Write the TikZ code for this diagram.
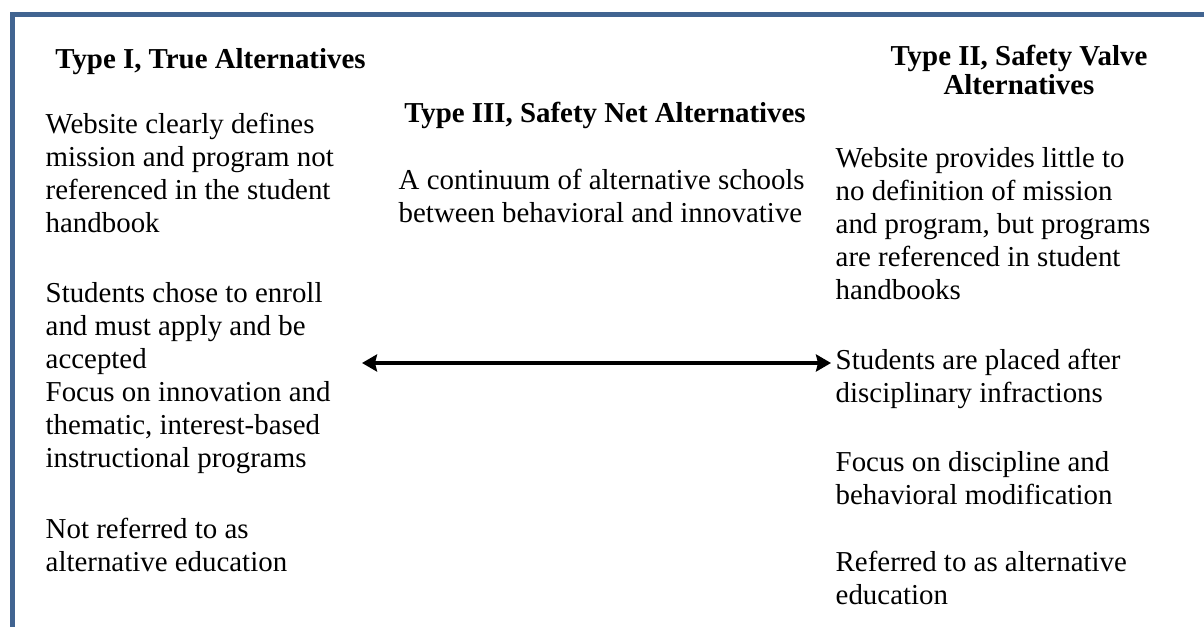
\documentclass[tikz,border=0pt]{standalone}
\usepackage{fontspec}
\setmainfont{Liberation Serif}
\usepackage{xcolor}
\usetikzlibrary{arrows.meta}
\definecolor{framecol}{RGB}{65,100,145}
\newcommand{\bodysize}{\fontsize{8.22pt}{9.39pt}\selectfont}

\begin{document}
\begin{tikzpicture}[
    txt/.style={anchor=north west,inner sep=0pt,align=left,font=\bodysize,execute at begin node=\strut},
    head/.style={anchor=north,inner sep=0pt,align=center,font=\bodysize\bfseries,execute at begin node=\strut},
    wordtip/.tip={Stealth[length=0.15cm,width=0.17cm,inset=0.02cm]}
    ]
    \useasboundingbox (0,0) rectangle (12.04,-6.27);
    \draw[framecol,line width=0.05cm] (12.1,-0.145) -- (0.125,-0.145) -- (0.125,-6.35);

    \node[head] (t1) at (2.105,-0.449) {Type I, True Alternatives};
    \node[head] (t3) at (6.05,-0.989) {Type III, Safety Net Alternatives};
    \node[head] (t2) at (10.19,-0.449) {Type II, Safety Valve\\[-0.04cm]Alternatives};

    \node[txt] (a1) at (0.45,-1.129) {Website clearly defines\\mission and program not\\referenced in the student\\handbook};
    \node[txt] (a2) at (0.45,-2.819) {Students chose to enroll\\and must apply and be\\accepted};
    \node[txt] (a3) at (0.45,-3.809) {Focus on innovation and\\thematic, interest-based\\instructional programs};
    \node[txt] (a4) at (0.45,-5.179) {Not referred to as\\alternative education};

    \node[txt] (c1) at (3.98,-1.689) {A continuum of alternative schools\\between behavioral and innovative};

    \node[txt] (b1) at (8.35,-1.469) {Website provides little to\\no definition of mission\\and program, but programs\\are referenced in student\\handbooks};
    \node[txt] (b2) at (8.35,-3.489) {Students are placed after\\disciplinary infractions};
    \node[txt] (b3) at (8.35,-4.509) {Focus on discipline and\\behavioral modification};
    \node[txt] (b4) at (8.35,-5.509) {Referred to as alternative\\education};

    \coordinate (w) at (3.62,-3.63);
    \coordinate (e) at (8.31,-3.63);
    \draw[{wordtip}-{wordtip},line width=0.04cm] (w) -- (e);
\end{tikzpicture}
\end{document}
